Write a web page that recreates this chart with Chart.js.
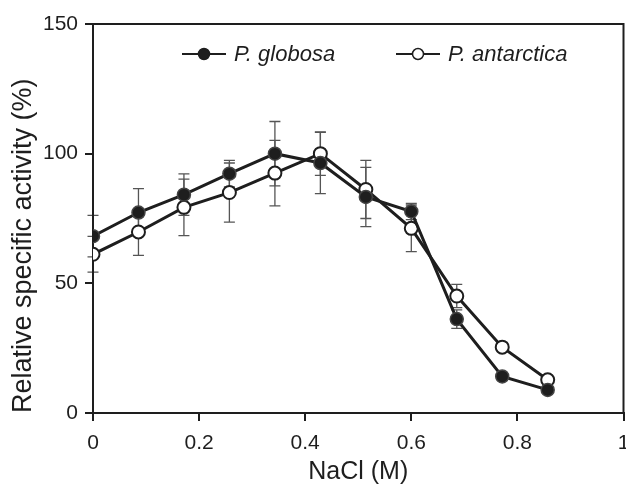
<!DOCTYPE html>
<html>
<head>
<meta charset="utf-8">
<script src="https://cdn.jsdelivr.net/npm/chart.js@4.4.0/dist/chart.umd.min.js"></script>
<style>
  html, body { margin: 0; padding: 0; background: #fff; overflow: hidden; }
  #frame { width: 626px; height: 485px; overflow: hidden; }
  #wrap { width: 632px; height: 485px; }
</style>
</head>
<body>
<div id="frame"><div id="wrap"><canvas id="chart"></canvas></div></div>
<script>
const nacl = [0, 0.0857, 0.1714, 0.2571, 0.3429, 0.4286, 0.5143, 0.6, 0.6857, 0.7714, 0.8571];
const globosa = [68.2, 77.3, 84.2, 92.3, 100, 96.4, 83.3, 77.7, 36.2, 14.1, 8.9];
const globosaErr = [8, 9.2, 8, 5.1, 12.4, 11.8, 11.4, 3.1, 3.6, 1.5, 1];
const antarctica = [61.2, 69.8, 79.3, 85.0, 92.5, 100, 86.2, 71.2, 45.1, 25.4, 12.8];
const antarcticaErr = [6.9, 9, 10.9, 11.4, 12.6, 8.4, 11.2, 9, 4.5, 1.5, 1];
const xTicks = [0, 0.2, 0.4, 0.6, 0.8, 1];
const yTicks = [0, 50, 100, 150];
const seriesNames = ["P. globosa", "P. antarctica"];

const fontFamily = "'Liberation Sans', Arial, Helvetica, sans-serif";
const ink = "#1e1e1e";

function toPoints(xs, ys) {
  return xs.map((x, i) => ({ x: x, y: ys[i] }));
}

// error bars drawn behind the lines and markers
const errorBars = {
  id: "errorBars",
  beforeDatasetsDraw(chart) {
    const { ctx, scales } = chart;
    const sets = [[globosa, globosaErr], [antarctica, antarcticaErr]];
    ctx.save();
    ctx.strokeStyle = "#555";
    ctx.lineWidth = 1.3;
    sets.forEach(([vals, errs]) => {
      vals.forEach((v, i) => {
        const px = scales.x.getPixelForValue(nacl[i]);
        const top = scales.y.getPixelForValue(v + errs[i]);
        const bot = scales.y.getPixelForValue(v - errs[i]);
        ctx.beginPath();
        ctx.moveTo(px, top); ctx.lineTo(px, bot);
        ctx.moveTo(px - 5.5, top); ctx.lineTo(px + 5.5, top);
        ctx.moveTo(px - 5.5, bot); ctx.lineTo(px + 5.5, bot);
        ctx.stroke();
      });
    });
    // frame round the plot
    const a = chart.chartArea;
    ctx.strokeStyle = ink;
    ctx.lineWidth = 2;
    ctx.strokeRect(a.left, a.top, a.right - a.left, a.bottom - a.top);
    ctx.restore();
  }
};

const insideLegend = {
  id: "insideLegend",
  afterDraw(chart) {
    const { ctx } = chart;
    const items = [
      { x: 182, fill: ink, text: seriesNames[0] },
      { x: 396, fill: "#fff", text: seriesNames[1] }
    ];
    const y = 54;
    ctx.save();
    items.forEach((it) => {
      ctx.strokeStyle = ink;
      ctx.lineWidth = 2;
      ctx.beginPath();
      ctx.moveTo(it.x, y); ctx.lineTo(it.x + 44, y);
      ctx.stroke();
      ctx.beginPath();
      ctx.arc(it.x + 22, y, 5.5, 0, Math.PI * 2);
      ctx.fillStyle = it.fill;
      ctx.fill();
      ctx.lineWidth = 1.5;
      ctx.stroke();
      ctx.fillStyle = ink;
      ctx.font = "italic 22px " + fontFamily;
      ctx.textBaseline = "middle";
      ctx.textAlign = "left";
      ctx.fillText(it.text, it.x + 52, y + 1);
    });
    ctx.restore();
  }
};

new Chart(document.getElementById("chart"), {
  type: "line",
  data: {
    datasets: [
      {
        label: seriesNames[0],
        data: toPoints(nacl, globosa),
        borderColor: ink,
        borderWidth: 3,
        pointRadius: 6.5,
        pointBorderWidth: 1.5,
        pointBackgroundColor: ink,
        pointBorderColor: "#444",
        tension: 0
      },
      {
        label: seriesNames[1],
        data: toPoints(nacl, antarctica),
        borderColor: ink,
        borderWidth: 3,
        pointRadius: 6.5,
        pointBorderWidth: 2,
        pointBackgroundColor: "#fff",
        pointBorderColor: ink,
        tension: 0
      }
    ]
  },
  options: {
    responsive: true,
    maintainAspectRatio: false,
    animation: false,
    layout: { padding: { top: 24, right: 0, left: 0, bottom: 0 } },
    plugins: {
      legend: { display: false },
      tooltip: { enabled: false }
    },
    scales: {
      x: {
        type: "linear",
        min: 0,
        max: 1,
        afterBuildTicks: (scale) => { scale.ticks = xTicks.map((v) => ({ value: v })); },
        afterFit: (scale) => { scale.height = 72; scale.paddingRight = 0; scale.paddingLeft = 0; },
        ticks: {
          padding: 10,
          color: ink,
          font: { family: fontFamily, size: 21 },
          maxRotation: 0,
          callback: (v) => String(+v.toFixed(1))
        },
        grid: { drawOnChartArea: false, tickLength: 8, lineWidth: 2, color: ink },
        border: { display: true, width: 2, color: ink },
        title: {
          display: true,
          text: "NaCl (M)",
          color: ink,
          font: { family: fontFamily, size: 25, lineHeight: 1 },
          padding: { top: 0, bottom: 0 }
        }
      },
      y: {
        min: 0,
        max: 150,
        afterBuildTicks: (scale) => { scale.ticks = yTicks.map((v) => ({ value: v })); },
        afterFit: (scale) => { scale.width = 93; },
        ticks: {
          padding: 7,
          color: ink,
          font: { family: fontFamily, size: 21 }
        },
        grid: { drawOnChartArea: false, tickLength: 8, lineWidth: 2, color: ink },
        border: { display: true, width: 2, color: ink },
        title: {
          display: true,
          text: "Relative specific activity (%)",
          align: "start",
          color: ink,
          font: { family: fontFamily, size: 27, lineHeight: 1 },
          padding: { top: 10, bottom: 0 }
        }
      }
    }
  },
  plugins: [errorBars, insideLegend]
});
</script>
</body>
</html>
